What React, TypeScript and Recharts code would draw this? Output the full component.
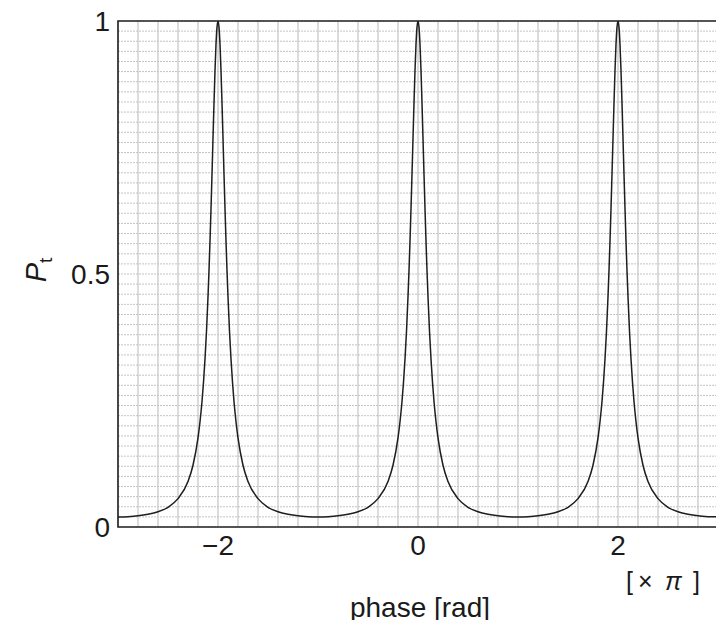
import React from "react";
import { LineChart, Line, XAxis, YAxis, CartesianGrid, ReferenceArea } from "recharts";

const phase = [
  -3, -2.9, -2.8, -2.7, -2.6, -2.5, -2.4, -2.3, -2.25, -2.2, -2.18, -2.16, -2.145, -2.13, -2.115, -2.1,
  -2.09, -2.08, -2.07, -2.06, -2.05, -2.04, -2.03, -2.02, -2.01, -2,
  -1.99, -1.98, -1.97, -1.96, -1.95, -1.94, -1.93, -1.92, -1.91, -1.9, -1.885, -1.87, -1.855, -1.84,
  -1.82, -1.8, -1.75, -1.7, -1.6, -1.5, -1.4, -1.3, -1.2, -1.1, -1,
  -0.9, -0.8, -0.7, -0.6, -0.5, -0.4, -0.3, -0.25, -0.2, -0.18, -0.16, -0.145, -0.13, -0.115, -0.1,
  -0.09, -0.08, -0.07, -0.06, -0.05, -0.04, -0.03, -0.02, -0.01, 0,
  0.01, 0.02, 0.03, 0.04, 0.05, 0.06, 0.07, 0.08, 0.09, 0.1, 0.115, 0.13, 0.145, 0.16,
  0.18, 0.2, 0.25, 0.3, 0.4, 0.5, 0.6, 0.7, 0.8, 0.9, 1,
  1.1, 1.2, 1.3, 1.4, 1.5, 1.6, 1.7, 1.75, 1.8, 1.82, 1.84, 1.855, 1.87, 1.885, 1.9,
  1.91, 1.92, 1.93, 1.94, 1.95, 1.96, 1.97, 1.98, 1.99, 2,
  2.01, 2.02, 2.03, 2.04, 2.05, 2.06, 2.07, 2.08, 2.09, 2.1, 2.115, 2.13, 2.145, 2.16,
  2.18, 2.2, 2.25, 2.3, 2.4, 2.5, 2.6, 2.7, 2.8, 2.9, 3,
];

const transmission = [
  0.02, 0.0205, 0.022, 0.025, 0.03, 0.039, 0.056, 0.09, 0.122, 0.176, 0.208, 0.248, 0.286, 0.332, 0.387, 0.455,
  0.507, 0.565, 0.629, 0.697, 0.768, 0.838, 0.902, 0.954, 0.988, 1,
  0.988, 0.954, 0.902, 0.838, 0.768, 0.697, 0.629, 0.565, 0.507, 0.455, 0.387, 0.332, 0.286, 0.248,
  0.208, 0.176, 0.122, 0.09, 0.056, 0.039, 0.03, 0.025, 0.022, 0.0205, 0.02,
  0.0205, 0.022, 0.025, 0.03, 0.039, 0.056, 0.09, 0.122, 0.176, 0.208, 0.248, 0.286, 0.332, 0.387, 0.455,
  0.507, 0.565, 0.629, 0.697, 0.768, 0.838, 0.902, 0.954, 0.988, 1,
  0.988, 0.954, 0.902, 0.838, 0.768, 0.697, 0.629, 0.565, 0.507, 0.455, 0.387, 0.332, 0.286, 0.248,
  0.208, 0.176, 0.122, 0.09, 0.056, 0.039, 0.03, 0.025, 0.022, 0.0205, 0.02,
  0.0205, 0.022, 0.025, 0.03, 0.039, 0.056, 0.09, 0.122, 0.176, 0.208, 0.248, 0.286, 0.332, 0.387, 0.455,
  0.507, 0.565, 0.629, 0.697, 0.768, 0.838, 0.902, 0.954, 0.988, 1,
  0.988, 0.954, 0.902, 0.838, 0.768, 0.697, 0.629, 0.565, 0.507, 0.455, 0.387, 0.332, 0.286, 0.248,
  0.208, 0.176, 0.122, 0.09, 0.056, 0.039, 0.03, 0.025, 0.022, 0.0205, 0.02,
];

const xTicks = [-2, 0, 2];
const yTicks = [0, 0.5, 1];

const gridX = [
  -3, -2.8, -2.6, -2.4, -2.2, -2, -1.8, -1.6, -1.4, -1.2, -1, -0.8, -0.6, -0.4, -0.2, 0,
  0.2, 0.4, 0.6, 0.8, 1, 1.2, 1.4, 1.6, 1.8, 2, 2.2, 2.4, 2.6, 2.8, 3,
];
const gridY = [
  0, 0.02, 0.04, 0.06, 0.08, 0.1, 0.12, 0.14, 0.16, 0.18, 0.2, 0.22, 0.24, 0.26, 0.28, 0.3,
  0.32, 0.34, 0.36, 0.38, 0.4, 0.42, 0.44, 0.46, 0.48, 0.5, 0.52, 0.54, 0.56, 0.58, 0.6,
  0.62, 0.64, 0.66, 0.68, 0.7, 0.72, 0.74, 0.76, 0.78, 0.8, 0.82, 0.84, 0.86, 0.88, 0.9,
  0.92, 0.94, 0.96, 0.98, 1,
];

const data = phase.map((x, i) => ({ x, y: transmission[i] }));

const FONT = "'Liberation Sans', Arial, Helvetica, sans-serif";
const tickStyle = { fontSize: 28, fill: "#1a1a1a", fontFamily: FONT };

export default function App() {
  return (
    <div style={{ position: "relative", width: 716, height: 612 }}>
      <style>{`.recharts-surface{overflow:visible}`}</style>
      <LineChart
        width={716}
        height={612}
        data={data}
        margin={{ top: 13, right: 6, left: 50, bottom: 0 }}
      >
        <XAxis xAxisId="grid" type="number" dataKey="x" domain={[-3, 3]} ticks={gridX} interval={0} hide allowDataOverflow />
        <YAxis yAxisId="grid" type="number" domain={[0, 1]} ticks={gridY} interval={0} hide allowDataOverflow />
        <CartesianGrid
          xAxisId="grid"
          yAxisId="grid"
          vertical={false}
          stroke="#c4c4c4"
          strokeWidth={1}
          strokeDasharray="2 1"
        />
        <CartesianGrid
          xAxisId="grid"
          yAxisId="grid"
          horizontal={false}
          stroke="#c4c4c4"
          strokeWidth={1.2}
        />
        <XAxis
          type="number"
          dataKey="x"
          domain={[-3, 3]}
          ticks={xTicks}
          interval={0}
          tick={tickStyle}
          tickFormatter={(v: number) => (v < 0 ? `\u2212${Math.abs(v)}` : `${v}`)}
          tickLine={false}
          axisLine={false}
          tickSize={0}
          tickMargin={8}
          height={93}
          allowDataOverflow
        />
        <YAxis
          type="number"
          domain={[0, 1]}
          ticks={yTicks}
          interval={0}
          tick={tickStyle}
          tickLine={false}
          axisLine={false}
          tickSize={0}
          tickMargin={8}
          width={60}
          allowDataOverflow
        />
        <ReferenceArea x1={-3} x2={3} y1={0} y2={1} fill="none" fillOpacity={0} stroke="#222" strokeWidth={1.6} />
        <Line
          type="monotone"
          dataKey="y"
          stroke="#1e1e1e"
          strokeWidth={1.5}
          dot={false}
          isAnimationActive={false}
        />
        <text x={412} y={609} textAnchor="middle" fontSize={28} fill="#1a1a1a" fontFamily={FONT}>
          phase [rad]
        </text>
        <text y={582} fontSize={25} fill="#1a1a1a" fontFamily={FONT}>
          <tspan x={618}>[</tspan>
          <tspan x={630}>×</tspan>
          <tspan x={657} fontStyle="italic">π</tspan>
          <tspan x={685}>]</tspan>
        </text>
        <text
          x={38}
          y={262}
          transform="rotate(-90 38 262)"
          textAnchor="middle"
          fontSize={29}
          fill="#1a1a1a"
          fontFamily={FONT}
        >
          <tspan fontStyle="italic">P</tspan>
          <tspan fontSize={19} dy={6}>t</tspan>
        </text>
      </LineChart>
    </div>
  );
}
